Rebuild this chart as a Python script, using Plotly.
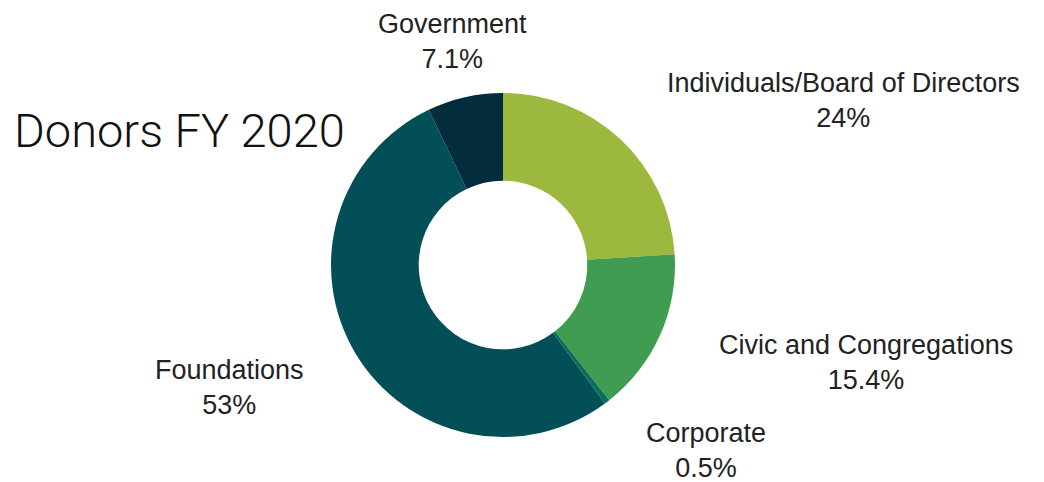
import plotly.graph_objects as go

categories = ["Individuals/Board of Directors", "Civic and Congregations", "Corporate", "Foundations", "Government"]
values = [24, 15.4, 0.5, 53, 7.1]
value_labels = ["24%", "15.4%", "0.5%", "53%", "7.1%"]
colors = ["#9DB83E", "#3F9C50", "#0B6F5C", "#034F57", "#032C3C"]

# label anchor positions (pixels from top-left, centre of text block)
label_pos = [(843, 100), (866, 362), (706, 450), (229, 387), (452, 42)]

W, H = 1044, 482
OFF = 8  # page body margin
def px(x):
    return (x - OFF) / W
def py(y):
    return 1 - (y - OFF) / H

fig = go.Figure(go.Pie(
    labels=categories, values=values, sort=False, direction="clockwise",
    rotation=0, hole=0.49, marker=dict(colors=colors, line=dict(width=0)),
    textinfo="none", hoverinfo="label+percent", showlegend=False,
    domain=dict(x=[px(331), px(675)], y=[py(437), py(93)]),
))

for cat, vl, (x, y) in zip(categories, value_labels, label_pos):
    fig.add_annotation(
        x=px(x), y=py(y), xref="paper", yref="paper",
        text=f"{cat}<br>{vl}", showarrow=False, align="center",
        xanchor="center", yanchor="middle",
        font=dict(family="Liberation Sans, Arial", size=27, color="#222222"),
    )

fig.add_annotation(
    x=px(12), y=py(130), xref="paper", yref="paper", text="Donors FY 2020",
    showarrow=False, xanchor="left", yanchor="middle",
    font=dict(family="Roboto", size=47, color="#111111", weight=300),
)

fig.update_layout(
    width=W, height=H, margin=dict(l=0, r=0, t=0, b=0),
    paper_bgcolor="white", plot_bgcolor="white",
)
fig.write_html("out.html")
